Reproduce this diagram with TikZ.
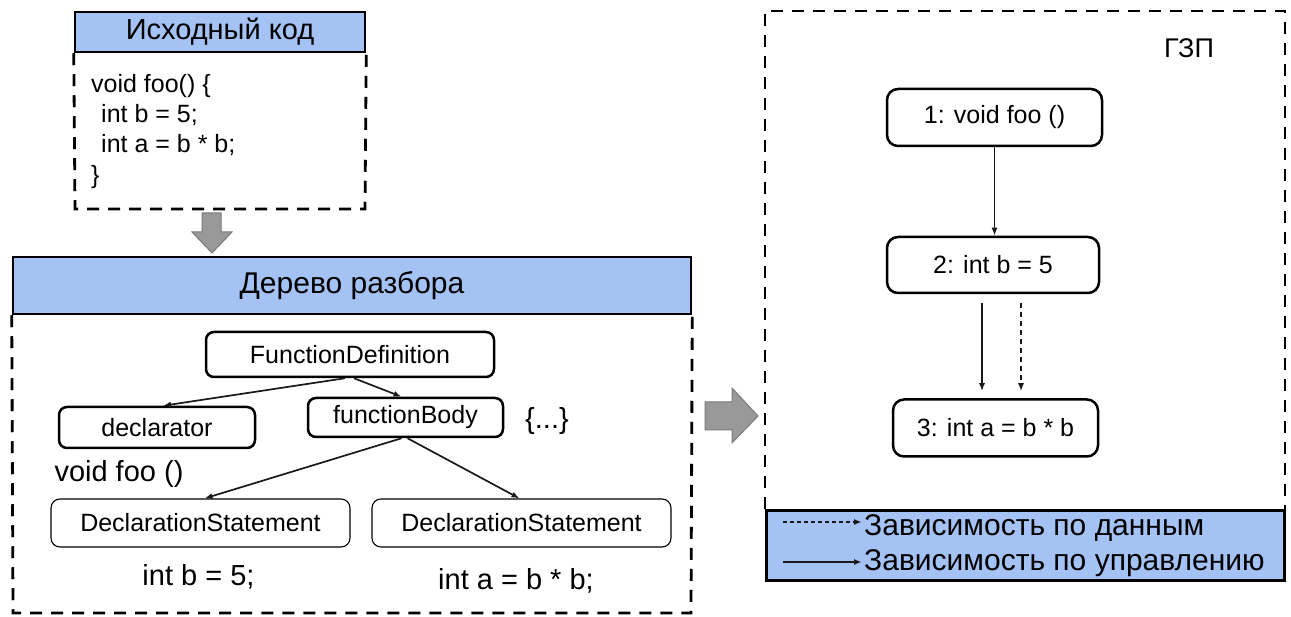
\documentclass[tikz,border=0pt]{standalone}
\usepackage{fontspec}
\setmainfont{Liberation Sans}
\usetikzlibrary{arrows.meta}
\definecolor{hdrblue}{HTML}{A4C2F4}
\definecolor{arrgray}{HTML}{999999}
\definecolor{arrgrayd}{HTML}{7A7A7A}
\newcommand{\fsA}{\fontsize{25}{30}\selectfont}
\newcommand{\fsB}{\fontsize{29}{34}\selectfont}
\newcommand{\fsC}{\fontsize{30}{36}\selectfont}
\begin{document}
\begin{tikzpicture}[x=1pt,y=-1pt,
  hdr/.style={draw=black, line width=2.5pt, fill=hdrblue, inner sep=0pt},
  dbox/.style={draw=black, line width=2.8pt, dash pattern=on 12pt off 9pt},
  tthick/.style={draw=black, line width=2.5pt, rounded corners=8pt, inner sep=0pt, font=\fsA},
  tthin/.style={draw=black, line width=1.1pt, rounded corners=9pt, inner sep=0pt, font=\fsA},
  gnode/.style={draw=black, line width=2.5pt, rounded corners=11pt, inner sep=0pt, font=\fsA},
  plain/.style={inner sep=0pt, font=\fsA},
  big/.style={inner sep=0pt, font=\fsB},
  edge/.style={draw=black!90, line width=1.7pt, -{Latex[length=8pt,width=6pt]}},
  dedge/.style={edge, dash pattern=on 5pt off 4pt},
  garrow/.style={fill=arrgray, draw=arrgrayd, line width=1pt, line join=miter}
]
\useasboundingbox (0,0) rectangle (1291,617);

% ---------- source code box ----------
\node[hdr, minimum width=290, minimum height=40, font=\fontsize{29}{34}\selectfont] (srch) at (220,32) {Исходный код};
\draw[dbox] (srch.south west) -- (75,209) -- (365,209) -- (srch.south east);
\node[plain, anchor=base west] (c1) at (91,93) {void foo() \{};
\node[plain, anchor=base west] (c2) at (101,123) {int b = 5;};
\node[plain, anchor=base west] (c3) at (101,153) {int a = b * b;};
\node[plain, anchor=base west] (c4) at (91,184) {\}};

% down arrow
\draw[garrow] (202,213) -- (221,213) -- (221,232) -- (232,232) -- (212,253) -- (192,232) -- (202,232) -- cycle;

% ---------- parse tree ----------
\node[hdr, minimum width=678, minimum height=57, font=\fsC] (pth) at (352,285.5) {Дерево разбора};
\draw[dbox] (pth.south west) -- (13,613) -- (691,613) -- (pth.south east);

\node[tthick, minimum width=288, minimum height=45] (fd) at (350,354.5) {FunctionDefinition};
\node[tthick, minimum width=196, minimum height=41] (decl) at (157,427.5) {declarator};
\node[tthick, minimum width=195, minimum height=39] (fb) at (405.5,417.5) {functionBody};
\node[big] (dots) at (547,421) {\{...\}};
\node[big, anchor=base] (vf) at (119,482) {void foo ()};
\node[tthin, minimum width=299, minimum height=48] (ds1) at (200.5,523) {DeclarationStatement};
\node[tthin, minimum width=299, minimum height=48] (ds2) at (521.5,523) {DeclarationStatement};
\node[big, anchor=base] (ib) at (198.5,585) {int b = 5;};
\node[big, anchor=base] (ia) at (516,589) {int a = b * b;};

\draw[edge] ([xshift=-5pt]fd.south) -- ([xshift=6pt]decl.north);
\draw[edge] ([xshift=4pt]fd.south) -- ([xshift=-4pt]fb.north);
\draw[edge] ([xshift=-4pt]fb.south) -- ([xshift=4pt]ds1.north);
\draw[edge] ([xshift=2pt]fb.south) -- ([xshift=-2pt]ds2.north);

% right arrow
\draw[garrow] (705,402) -- (732,402) -- (732,388) -- (758,416) -- (732,443) -- (732,430) -- (705,430) -- cycle;

% ---------- GZP ----------
\draw[dbox] (765,509) -- (765,11) -- (1285,11) -- (1285,509);
\node[inner sep=0pt, font=\fontsize{27}{32}\selectfont] (gzp) at (1189,48) {ГЗП};

\node[gnode, minimum width=215, minimum height=57] (n1) at (994.5,117.5) {1: void foo ()};
\node[gnode, minimum width=212, minimum height=56] (n2) at (993,265) {2: int b = 5};
\node[gnode, minimum width=205, minimum height=57] (n3) at (995.5,428) {3: int a = b * b};

\draw[edge] (n1.south) -- ([xshift=1.5pt]n2.north);
\draw[edge, shorten <=9pt, shorten >=7pt] ([xshift=-11pt]n2.south) -- ([xshift=-13.5pt]n3.north);
\draw[dedge, shorten <=9pt, shorten >=7pt] ([xshift=28pt]n2.south) -- ([xshift=25.5pt]n3.north);

% legend
\node[hdr, minimum width=518, minimum height=70, anchor=north west] (leg) at (765,509) {};
\coordinate (l1s) at (783,522);
\coordinate (l1e) at (862,522);
\coordinate (l2s) at (783,562);
\coordinate (l2e) at (862,562);
\draw[dedge, dash pattern=on 4pt off 3pt] (l1s) -- (l1e);
\draw[edge] (l2s) -- (l2e);
\node[inner sep=0pt, anchor=base west, font=\fsC] (lt1) at (864,535) {Зависимость по данным};
\node[inner sep=0pt, anchor=base west, font=\fsC] (lt2) at (864,570) {Зависимость по управлению};
\end{tikzpicture}
\end{document}
